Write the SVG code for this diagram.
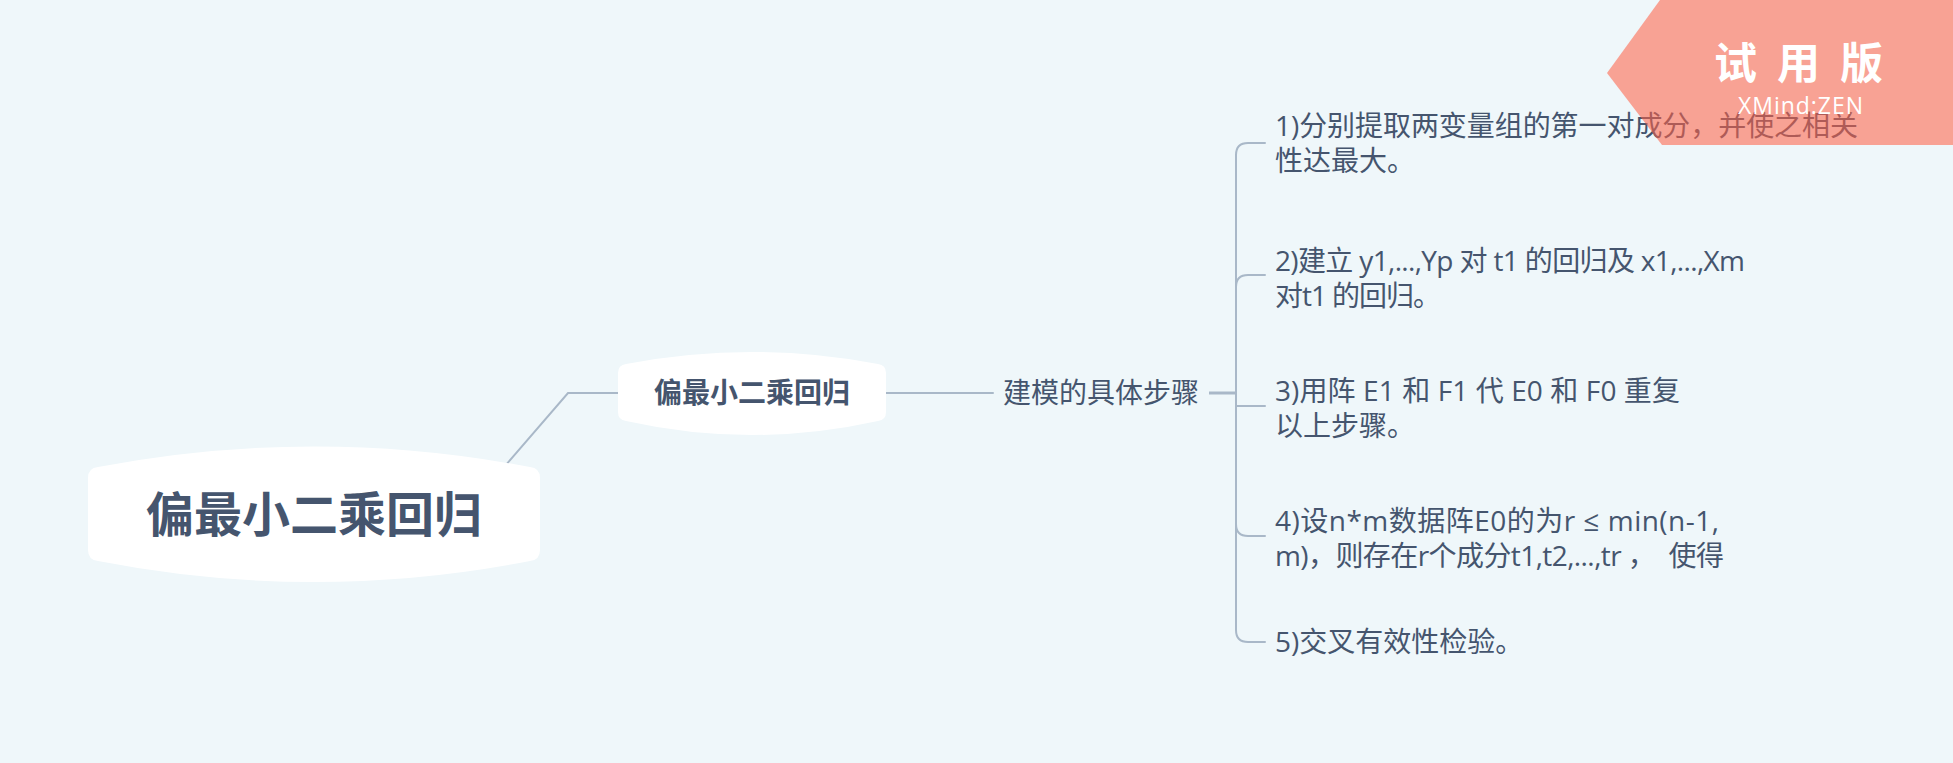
<svg xmlns="http://www.w3.org/2000/svg" width="1953" height="763" viewBox="0 0 1953 763">
  <style>
    .bg { fill: #EFF7FA; }
    .node { fill: #FFFFFF; }
    .conn { fill: none; stroke: #A9B8C8; stroke-width: 2; stroke-linecap: round; }
    .stub { fill: none; stroke: #A9B8C8; stroke-width: 3; }
    .t { font-family: "Open Sans", "Noto Sans CJK SC", sans-serif; fill: #45556E; }
    .cjk { font-family: "Noto Sans CJK SC", sans-serif; fill: #45556E; }
    .item { font-size: 28px; }
    .wm { fill: #FF6047; fill-opacity: 0.57; }
    .wmtext { font-family: "Noto Sans CJK SC", sans-serif; fill: #FFFFFF; }
  </style>

  <rect class="bg" x="0" y="0" width="1953" height="763"/>

  <!-- connectors -->
  <g id="connectors">
    <path class="conn" d="M 480 495 L 568 393 L 625 393"/>
    <path class="conn" d="M 880 393 L 993 393"/>
    <path class="stub" d="M 1209 393 L 1236 393"/>
    <!-- bracket to the five steps -->
    <path class="conn" d="M 1265 143 H 1248 Q 1236 143 1236 155 V 630 Q 1236 642 1248 642 H 1265"/>
    <path class="conn" d="M 1236 287 Q 1236 275 1248 275 H 1265"/>
    <path class="conn" d="M 1236 406 H 1265"/>
    <path class="conn" d="M 1236 524 Q 1236 536 1248 536 H 1265"/>
  </g>

  <!-- root topic -->
  <g id="root">
    <path class="node" d="M 88 478 Q 88 468 98 467 Q 314 426 530 467 Q 540 468 540 478 L 540 550 Q 540 560 530 561 Q 314 603 98 561 Q 88 560 88 550 Z"/>
    <text class="cjk" x="314" y="532" font-size="48" font-weight="bold" text-anchor="middle">偏最小二乘回归</text>
  </g>

  <!-- main branch topic -->
  <g id="branch">
    <path class="node" d="M 618 373 Q 618 365 626 364 Q 752 340 878 364 Q 886 365 886 373 L 886 412 Q 886 420 878 421 Q 752 449 626 421 Q 618 420 618 412 Z"/>
    <text class="cjk" x="752" y="403" font-size="28" font-weight="bold" text-anchor="middle">偏最小二乘回归</text>
  </g>

  <!-- sub topic -->
  <g id="steps">
    <text class="cjk" x="1003" y="403" font-size="28">建模的具体步骤</text>
  </g>

  <!-- step topics -->
  <g id="step1">
    <text class="t item" x="1275" y="136" textLength="583">1)分别提取两变量组的第一对成分，并使之相关</text>
    <text class="t item" x="1275" y="171">性达最大。</text>
  </g>
  <g id="step2">
    <text class="t item" x="1275" y="271" textLength="470">2)建立 y1,...,Yp 对 t1 的回归及 x1,...,Xm</text>
    <text class="t item" x="1275" y="306" textLength="166">对t1 的回归。</text>
  </g>
  <g id="step3">
    <text class="t item" x="1275" y="401" textLength="405">3)用阵 E1 和 F1 代 E0 和 F0 重复</text>
    <text class="t item" x="1275" y="436">以上步骤。</text>
  </g>
  <g id="step4">
    <text class="t item" x="1275" y="531" textLength="444">4)设n*m数据阵E0的为r ≤ min(n-1,</text>
    <text class="t item" x="1275" y="566" textLength="449" xml:space="preserve">m)，则存在r个成分t1,t2,...,tr ，  使得</text>
  </g>
  <g id="step5">
    <text class="t item" x="1275" y="652">5)交叉有效性检验。</text>
  </g>

  <!-- trial badge -->
  <g id="badge">
    <polygon class="wm" points="1660,0 1953,0 1953,145 1662,145 1607,73"/>
    <text class="wmtext" x="1714 1756 1777 1819 1840" y="79" font-size="43" font-weight="bold">试 用 版</text>
    <text class="wmtext" x="1738" y="114" font-size="23" textLength="125" style="font-family: 'Open Sans', sans-serif;">XMind:ZEN</text>
  </g>
</svg>
